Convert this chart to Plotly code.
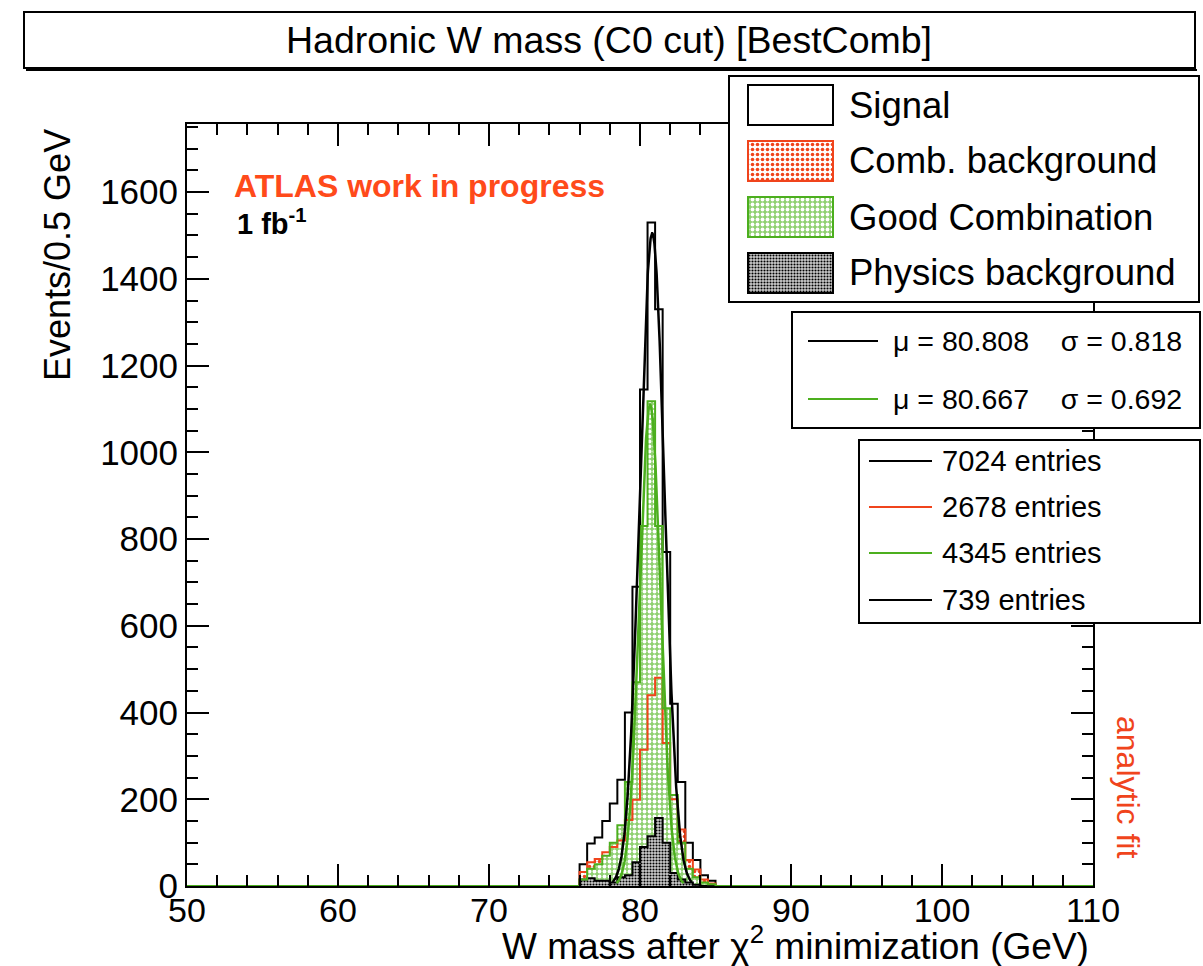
import numpy as np
import plotly.graph_objects as go

# ---------------------------------------------------------------- data
BIN_WIDTH = 0.5
X_MIN, X_MAX = 50.0, 110.0
FIRST_EDGE = 76.0          # low edge of the first filled bin

# events per 0.5 GeV, bins starting at FIRST_EDGE
signal = [50, 98, 112, 150, 190, 245, 400, 690, 1145, 1530, 1330, 770, 420, 240, 100, 60, 25, 12]
comb_bkg = [32, 55, 62, 78, 90, 105, 152, 199, 314, 440, 480, 330, 200, 130, 60, 38, 15, 6]
good_comb = [15, 40, 50, 70, 100, 140, 240, 470, 830, 1118, 830, 410, 210, 100, 40, 20, 8, 4]
phys_bkg = [15, 18, 12, 12, 8, 20, 25, 55, 90, 115, 157, 100, 30, 15, 8, 3, 0, 0]

# gaussian fits (mean, sigma, amplitude)
fit_signal = dict(mu=80.808, sigma=0.818, amp=1505)
fit_good = dict(mu=80.667, sigma=0.692, amp=1110)

entries = ["7024 entries", "2678 entries", "4345 entries", "739 entries"]
legend_names = ["Signal", "Comb. background", "Good Combination", "Physics background"]

x_ticks = [50, 60, 70, 80, 90, 100, 110]
y_ticks = [0, 200, 400, 600, 800, 1000, 1200, 1400, 1600]
Y_MAX = 1757

# ---------------------------------------------------------------- style
W, H = 1203, 966
FONT = "Liberation Sans, Arial, Helvetica, sans-serif"
BLACK = "#000000"
RED = "#f0441c"
GREEN = "#4caf1e"
ATLAS_RED = "#ff4a1a"

# fill patterns
PAT_COMB = dict(shape=".", fgcolor=RED, bgcolor="rgba(255,255,255,0)", size=5, solidity=0.4)
PAT_GOOD = dict(shape=".", fgcolor="white", bgcolor="#8fd070", size=5, solidity=0.45)
PAT_PHYS = dict(shape=".", fgcolor=BLACK, bgcolor="#cfcfcf", size=3, solidity=0.4)


def px(x):
    return x / W


def py(y):
    return 1 - y / H


n_bins = int(round((X_MAX - X_MIN) / BIN_WIDTH))
edges = X_MIN + BIN_WIDTH * np.arange(n_bins + 1)
i0 = int(round((FIRST_EDGE - X_MIN) / BIN_WIDTH))


def full(vals):
    arr = np.zeros(n_bins)
    arr[i0:i0 + len(vals)] = vals
    return arr


def step_xy(vals, lo=0, hi=None):
    arr = full(vals)
    hi = n_bins if hi is None else hi
    xs = edges[lo:hi + 1]
    ys = np.append(arr[lo:hi], arr[hi - 1])
    return xs, ys


def outline(vals, color, lo=0, hi=None, width=2):
    xs, ys = step_xy(vals, lo, hi)
    return go.Scatter(x=xs, y=ys, mode="lines", line=dict(color=color, width=width, shape="hv"),
                      hoverinfo="skip", xaxis="x", yaxis="y")


def filled(vals, pattern):
    vals = np.asarray(vals, dtype=float)
    centers = FIRST_EDGE + BIN_WIDTH * (np.arange(len(vals)) + 0.5)
    pat = dict(pattern)
    pat["fillmode"] = "replace"
    return go.Bar(x=centers, y=vals, width=BIN_WIDTH, xaxis="x", yaxis="y",
                  marker=dict(color="rgba(0,0,0,0)", line=dict(width=0), pattern=pat),
                  hoverinfo="skip")


def gauss_curve(p, color, nsig=3.2):
    xs = np.linspace(p["mu"] - nsig * p["sigma"], p["mu"] + nsig * p["sigma"], 400)
    ys = p["amp"] * np.exp(-0.5 * ((xs - p["mu"]) / p["sigma"]) ** 2)
    return go.Scatter(x=xs, y=ys, mode="lines", line=dict(color=color, width=2.5),
                      hoverinfo="skip", xaxis="x", yaxis="y")


fig = go.Figure()

# histograms
fig.add_trace(outline(signal, BLACK))
fig.add_trace(filled(comb_bkg, PAT_COMB))
fig.add_trace(filled(good_comb, PAT_GOOD))
fig.add_trace(outline(comb_bkg, RED))
fig.add_trace(filled(phys_bkg, PAT_PHYS))
fig.add_trace(outline(phys_bkg, BLACK, i0 - 1, i0 + len(phys_bkg) + 1))
fig.add_trace(outline(good_comb, GREEN))

# fitted curves
fig.add_trace(gauss_curve(fit_signal, BLACK))
fig.add_trace(gauss_curve(fit_good, GREEN))

# legend swatches (inset axes in pixel units)
sw_rows = [105, 161, 217, 273]
sw_styles = [(None, BLACK), (PAT_COMB, RED), (PAT_GOOD, GREEN), (PAT_PHYS, BLACK)]
for yc, (pat, edge) in zip(sw_rows, sw_styles):
    marker = dict(color="white", line=dict(color=edge, width=2))
    if pat is not None:
        p = dict(pat)
        if p["bgcolor"].startswith("rgba"):
            p["bgcolor"] = "white"
        p["fillmode"] = "replace"
        marker["pattern"] = p
    fig.add_trace(go.Bar(x=[85], base=[748], y=[yc], width=[40], orientation="h",
                         marker=marker, xaxis="x2", yaxis="y2", hoverinfo="skip"))

axis_common = dict(showgrid=False, zeroline=False, showline=True, linecolor=BLACK, linewidth=2,
                   mirror="allticks", ticks="inside", ticklen=22, tickwidth=2, tickcolor=BLACK,
                   fixedrange=True, automargin=False)
inset_common = dict(showgrid=False, zeroline=False, showline=True, mirror=True, linecolor=BLACK,
                    linewidth=2, showticklabels=False, ticks="", fixedrange=True, automargin=False)

fig.update_layout(
    width=W, height=H, autosize=False,
    margin=dict(l=0, r=0, t=0, b=0, pad=0),
    paper_bgcolor="white", plot_bgcolor="white",
    barmode="overlay", bargap=0, showlegend=False,
    xaxis=dict(domain=[px(187), px(1093)], range=[X_MIN, X_MAX], tickvals=x_ticks, anchor="y",
               tickfont=dict(family=FONT, size=34, color=BLACK), ticklabelstandoff=-7,
               minor=dict(ticks="inside", ticklen=11, tickwidth=2, tickcolor=BLACK, dtick=2, tick0=50),
               **axis_common),
    yaxis=dict(domain=[py(886), py(124)], range=[0, Y_MAX], tickvals=y_ticks, anchor="x",
               tickfont=dict(family=FONT, size=35, color=BLACK),
               minor=dict(ticks="inside", ticklen=11, tickwidth=2, tickcolor=BLACK, dtick=50, tick0=0),
               **axis_common),
    xaxis2=dict(domain=[px(730), px(1198)], range=[730, 1198], anchor="y2", **inset_common),
    yaxis2=dict(domain=[py(301), py(77)], range=[301, 77], anchor="x2", **inset_common),
)

shapes = []
annotations = []


def rect(x0, y0, x1, y1, width=2):
    shapes.append(dict(type="rect", xref="paper", yref="paper", x0=px(x0), x1=px(x1),
                       y0=py(y1), y1=py(y0), fillcolor="white",
                       line=dict(color=BLACK, width=width), layer="above"))


def hline(x0, x1, y, color):
    shapes.append(dict(type="line", xref="paper", yref="paper", x0=px(x0), x1=px(x1),
                       y0=py(y), y1=py(y), line=dict(color=color, width=2), layer="above"))


def text(x, y, s, size, color=BLACK, xanchor="left", angle=0, bold=False):
    if bold:
        s = "<b>" + s + "</b>"
    annotations.append(dict(x=px(x), y=py(y), xref="paper", yref="paper", text=s, showarrow=False,
                            xanchor=xanchor, yanchor="middle", textangle=angle,
                            font=dict(family=FONT, size=size, color=color)))


# title pave
rect(24, 12, 1195, 68)
shapes.append(dict(type="line", xref="paper", yref="paper", x0=px(26), x1=px(1197),
                   y0=py(70), y1=py(70), line=dict(color=BLACK, width=2), layer="above"))
text(609, 40, "Hadronic W mass (C0 cut) [BestComb]", 37.5, xanchor="center")

# legend entries
for yc, name in zip(sw_rows, legend_names):
    text(847, yc, name, 36.5)

# fit results box
rect(792, 312, 1200, 428)
hline(808, 878, 341, BLACK)
hline(808, 878, 399, GREEN)
text(891, 341, "\u03bc = %.3f    \u03c3 = %.3f" % (fit_signal["mu"], fit_signal["sigma"]), 28.5)
text(891, 399, "\u03bc = %.3f    \u03c3 = %.3f" % (fit_good["mu"], fit_good["sigma"]), 28.5)

# entries box
rect(859, 440, 1200, 623)
entry_rows = [461, 507, 553, 600]
entry_colors = [BLACK, RED, GREEN, BLACK]
for yc, c, s in zip(entry_rows, entry_colors, entries):
    hline(869, 932, yc, c)
    text(940, yc, s, 29)

# labels
text(232, 186, "ATLAS work in progress", 32, color=ATLAS_RED, bold=True)
text(235, 222, "1 fb<sup>-1</sup>", 29, bold=True)
text(1128, 787, "analytic fit", 32, color=RED, xanchor="center", angle=90)
text(57, 255, "Events/0.5 GeV", 36, xanchor="center", angle=-90)
text(1091, 943, "W mass after \u03c7<sup>2</sup> minimization (GeV)", 37, xanchor="right")

fig.update_layout(shapes=shapes, annotations=annotations)

fig.write_html("out.html")
